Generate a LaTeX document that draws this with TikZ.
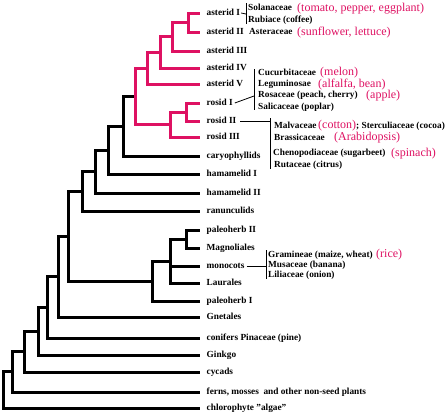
\documentclass[tikz,border=0pt]{standalone}
\usepackage{fontspec}
\setmainfont{Liberation Serif}
\usepackage{tikz}
\usetikzlibrary{scopes}
\usetikzlibrary{calc}
\definecolor{treered}{RGB}{222,17,98}

\tikzset{
    leaf/.style={anchor=west, inner xsep=6.5pt, inner ysep=0pt, text height=6pt, text depth=1pt,
        font=\bfseries\fontsize{9.3}{10}\selectfont},
    family/.style={anchor=west, inner sep=0pt, text height=6pt, text depth=1pt,
        font=\bfseries\fontsize{9.3}{10}\selectfont},
    crop/.style={anchor=west, inner sep=0pt, text height=7.5pt, text depth=1.5pt, text=treered,
        font=\fontsize{12}{13}\selectfont},
    branch/.style={line width=3pt},
    bracketline/.style={line width=0.8pt}
}

\begin{document}
\begin{tikzpicture}[x=1pt,y=-1pt]
        \useasboundingbox (0,0) rectangle (448,416);

        % tips of the tree
        \node[leaf] (astI)   at (200,13)  {asterid I};
        \node[leaf] (astII)  at (200,32)  {asterid II};
        \node[leaf] (astIII) at (200,51)  {asterid III};
        \node[leaf] (astIV)  at (200,68)  {asterid IV};
        \node[leaf] (astV)   at (200,84)  {asterid V};
        \node[leaf] (rosI)   at (200,103) {rosid I};
        \node[leaf] (rosII)  at (200,121) {rosid II};
        \node[leaf] (rosIII) at (200,137) {rosid III};
        \node[leaf] (caryo)  at (200,156) {caryophyllids};
        \node[leaf] (hamI)   at (200,174) {hamamelid I};
        \node[leaf] (hamII)  at (200,193) {hamamelid II};
        \node[leaf] (ranun)  at (200,211) {ranunculids};
        \node[leaf] (paleoII) at (200,230) {paleoherb II};
        \node[leaf] (magno)  at (200,248) {Magnoliales};
        \node[leaf] (mono)   at (200,266) {monocots};
        \node[leaf] (laur)   at (200,283) {Laurales};
        \node[leaf] (paleoI) at (200,301) {paleoherb I};
        \node[leaf] (gnet)   at (200,317) {Gnetales};
        \node[leaf] (conif)  at (200,338) {conifers Pinaceae (pine)};
        \node[leaf] (ginkgo) at (200,355) {Ginkgo};
        \node[leaf] (cycad)  at (200,372) {cycads};
        \node[leaf] (ferns)  at (200,392) {ferns, mosses\ \ and other non-seed plants};
        \node[leaf] (chloro) at (200,408) {chlorophyte "algae"};

        % branch points
        \coordinate (a12)   at (188,22.5);
        \coordinate (a123)  at (172,36.8);
        \coordinate (a1234) at (160,52.4);
        \coordinate (a5)    at (147,68.2);
        \coordinate (r12)   at (186,112);
        \coordinate (r123)  at (170,124.5);
        \coordinate (ar)    at (135,96.4);
        \coordinate (cy)    at (123,126.2);
        \coordinate (h1)    at (108,150.1);
        \coordinate (h2)    at (95,171.5);
        \coordinate (ra)    at (82,191.3);
        \coordinate (pm)    at (186,239);
        \coordinate (mc)    at (170,261);
        \coordinate (mp)    at (152,281);
        \coordinate (an)    at (68,236);
        \coordinate (gn)    at (58,276.5);
        \coordinate (co)    at (47,307);
        \coordinate (gi)    at (38,331);
        \coordinate (cd)    at (24,351.5);
        \coordinate (fe)    at (12,371.8);
        \coordinate (root)  at (3,390);

        {[branch]
            \draw (root) |- (fe) (root) |- (chloro.west);
            \draw (fe) |- (cd) (fe) |- (ferns.west);
            \draw (cd) |- (gi) (cd) |- (cycad.west);
            \draw (gi) |- (co) (gi) |- (ginkgo.west);
            \draw (co) |- (gn) (co) |- (conif.west);
            \draw (gn) |- (an) (gn) |- (gnet.west);
            \draw (an) |- (ra) (an) |- (mp);
            \draw (mp) |- (mc) (mp) |- (paleoI.west);
            \draw (mc) |- (pm) (mc) |- (mono.west) (mc) |- (laur.west);
            \draw (pm) |- (paleoII.west) (pm) |- (magno.west);
            \draw (ra) |- (h2) (ra) |- (ranun.west);
            \draw (h2) |- (h1) (h2) |- (hamII.west);
            \draw (h1) |- (cy) (h1) |- (hamI.west);
            \draw (cy) |- (ar) (cy) |- (caryo.west);
        }
        {[branch,treered]
            \draw (ar) |- (a5) (ar) |- (r123);
            \draw (a5) |- (a1234) (a5) |- (astV.west);
            \draw (a1234) |- (a123) (a1234) |- (astIV.west);
            \draw (a123) |- (a12) (a123) |- (astIII.west);
            \draw (a12) |- (astI.west) (a12) |- (astII.west);
            \draw (r123) |- (r12) (r123) |- (rosIII.west);
            \draw (r12) |- (rosI.west) (r12) |- (rosII.west);
        }

        % families
        \node[family] (solan)  at (248,8)   {Solanaceae};
        \node[family] (rubia)  at (248,20)  {Rubiace (coffee)};
        \node[family] (aster)  at (249,32)  {Asteraceae};
        \node[family] (cucur)  at (258,73)  {Cucurbitaceae};
        \node[family] (legum)  at (258,84)  {Leguminosae};
        \node[family] (rosac)  at (258,95)  {Rosaceae (peach, cherry)};
        \node[family] (salic)  at (258,107) {Salicaceae (poplar)};
        \node[family] (malva)  at (274,126) {Malvaceae};
        \node[family] (sterc)  at (356,126) {; Sterculiaceae (cocoa)};
        \node[family] (brass)  at (274,138) {Brassicaceae};
        \node[family] (cheno)  at (273,153) {Chenopodiaceae (sugarbeet)};
        \node[family] (rutac)  at (274,165) {Rutaceae (citrus)};
        \node[family] (grami)  at (268,255) {Gramineae (maize, wheat)};
        \node[family] (musac)  at (268,265) {Musaceae (banana)};
        \node[family] (lilia)  at (268,275) {Liliaceae (onion)};

        % crops
        \node[crop] (tomato)  at (297,8)   {(tomato, pepper, eggplant)};
        \node[crop] (sunfl)   at (297,32)  {(sunflower, lettuce)};
        \node[crop] (melon)   at (320,72)  {(melon)};
        \node[crop] (alfalfa) at (318,84)  {(alfalfa, bean)};
        \node[crop] (apple)   at (366,95)  {(apple)};
        \node[crop] (cotton)  at (318,125) {(cotton)};
        \node[crop] (arabid)  at (334,137) {(Arabidopsis)};
        \node[crop] (spinach) at (391,153) {(spinach)};
        \node[crop] (rice)    at (376,254) {(rice)};

        % brackets
        \coordinate (barAtop) at (246,3);
        \coordinate (barAbot) at (246,24);
        \coordinate (barA)    at (246,14);
        \coordinate (barRtop) at (254,69);
        \coordinate (barRbot) at (254,110);
        \coordinate (barR)    at (254,96);
        \coordinate (barMtop) at (270,118);
        \coordinate (barMbot) at (270,169);
        \coordinate (barM)    at (270,121);
        \coordinate (barGtop) at (266,250);
        \coordinate (barGbot) at (266,279);
        \coordinate (barG)    at (266,266);
        {[bracketline]
            \draw (barAtop) -- (barAbot);
            \draw ([xshift=-5.5pt]astI.east) -- (barA);
            \draw (barRtop) -- (barRbot);
            \draw ([xshift=-4.5pt]rosI.east) -- (barR);
            \draw (barMtop) -- (barMbot);
            \draw ([xshift=-2.5pt]rosII.east) -- (barM);
            \draw (barGtop) -- (barGbot);
            \draw ([xshift=-4.5pt]mono.east) -- (barG);
        }
    \end{tikzpicture}
\end{document}
